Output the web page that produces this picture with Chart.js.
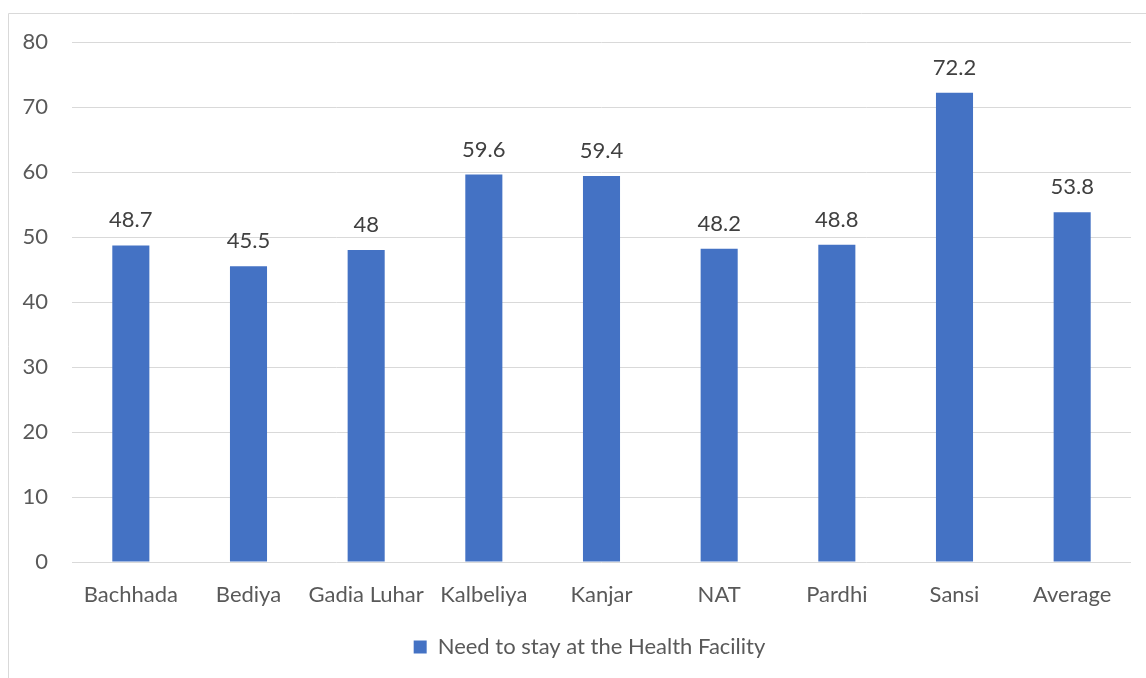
<!DOCTYPE html>
<html>
<head>
<meta charset="utf-8">
<script src="https://cdn.jsdelivr.net/npm/chart.js@4/dist/chart.umd.min.js"></script>
<style>
  html, body { margin: 0; padding: 0; background: #ffffff; }
  #wrap { width: 1146px; height: 678px; position: relative; }
</style>
</head>
<body>
<div id="wrap"><canvas id="c" width="1146" height="678"></canvas></div>
<script>
// Groups shown on the category axis
const categories = ['Bachhada', 'Bediya', 'Gadia Luhar', 'Kalbeliya', 'Kanjar', 'NAT', 'Pardhi', 'Sansi', 'Average'];
// Percentage of respondents per group
const stayValues = [48.7, 45.5, 48, 59.6, 59.4, 48.2, 48.8, 72.2, 53.8];
const seriesName = 'Need to stay at the Health Facility';
const yTicks = [0, 10, 20, 30, 40, 50, 60, 70, 80];

const FONT = 'Lato, "Open Sans", sans-serif';

// Light frame along the left and top edges of the chart;
// also centres the legend under the span from the tick labels to the plot's right edge
const framePlugin = {
  id: 'frame',
  beforeDraw(chart) {
    if (chart.legend) {
      chart.legend.left = 48;
    }
    const ctx = chart.ctx;
    ctx.save();
    ctx.strokeStyle = '#d9d9d9';
    ctx.lineWidth = 1;
    ctx.beginPath();
    ctx.moveTo(8.5, 700);
    ctx.lineTo(8.5, 13.5);
    ctx.lineTo(1146, 13.5);
    ctx.stroke();
    ctx.restore();
  }
};

// Value labels above each bar
const valueLabels = {
  id: 'valueLabels',
  afterDatasetsDraw(chart) {
    const ctx = chart.ctx;
    const meta = chart.getDatasetMeta(0);
    const data = chart.data.datasets[0].data;
    ctx.save();
    ctx.font = '22px ' + FONT;
    ctx.fillStyle = '#404040';
    ctx.textAlign = 'center';
    ctx.textBaseline = 'alphabetic';
    meta.data.forEach((bar, i) => {
      ctx.fillText(String(data[i]), bar.x, bar.y - 18);
    });
    ctx.restore();
  }
};

new Chart(document.getElementById('c'), {
  type: 'bar',
  data: {
    labels: categories,
    datasets: [{
      label: seriesName,
      data: stayValues,
      backgroundColor: '#4472c4',
      borderWidth: 0,
      categoryPercentage: 1,
      barPercentage: 0.315
    }]
  },
  options: {
    responsive: false,
    animation: false,
    layout: { padding: { top: 42, right: 15, left: 0, bottom: 10 } },
    plugins: {
      tooltip: { enabled: false },
      legend: {
        position: 'bottom',
        labels: {
          font: { family: FONT, size: 22 },
          color: '#595959',
          boxWidth: 13,
          boxHeight: 13,
          padding: 8
        }
      }
    },
    scales: {
      x: {
        grid: { display: false, drawTicks: false },
        border: { display: false },
        ticks: { color: '#595959', font: { family: FONT, size: 22 }, padding: 20, maxRotation: 0, autoSkip: false },
        afterFit(scale) { scale.height = 66; }
      },
      y: {
        min: 0,
        max: 80,
        afterBuildTicks(scale) { scale.ticks = yTicks.map(v => ({ value: v })); },
        grid: { color: '#d9d9d9', lineWidth: 1, drawTicks: false },
        border: { display: false },
        ticks: { color: '#595959', font: { family: FONT, size: 22 }, padding: 24 },
        afterFit(scale) { scale.width = 72; }
      }
    }
  },
  plugins: [framePlugin, valueLabels]
});
</script>
</body>
</html>
